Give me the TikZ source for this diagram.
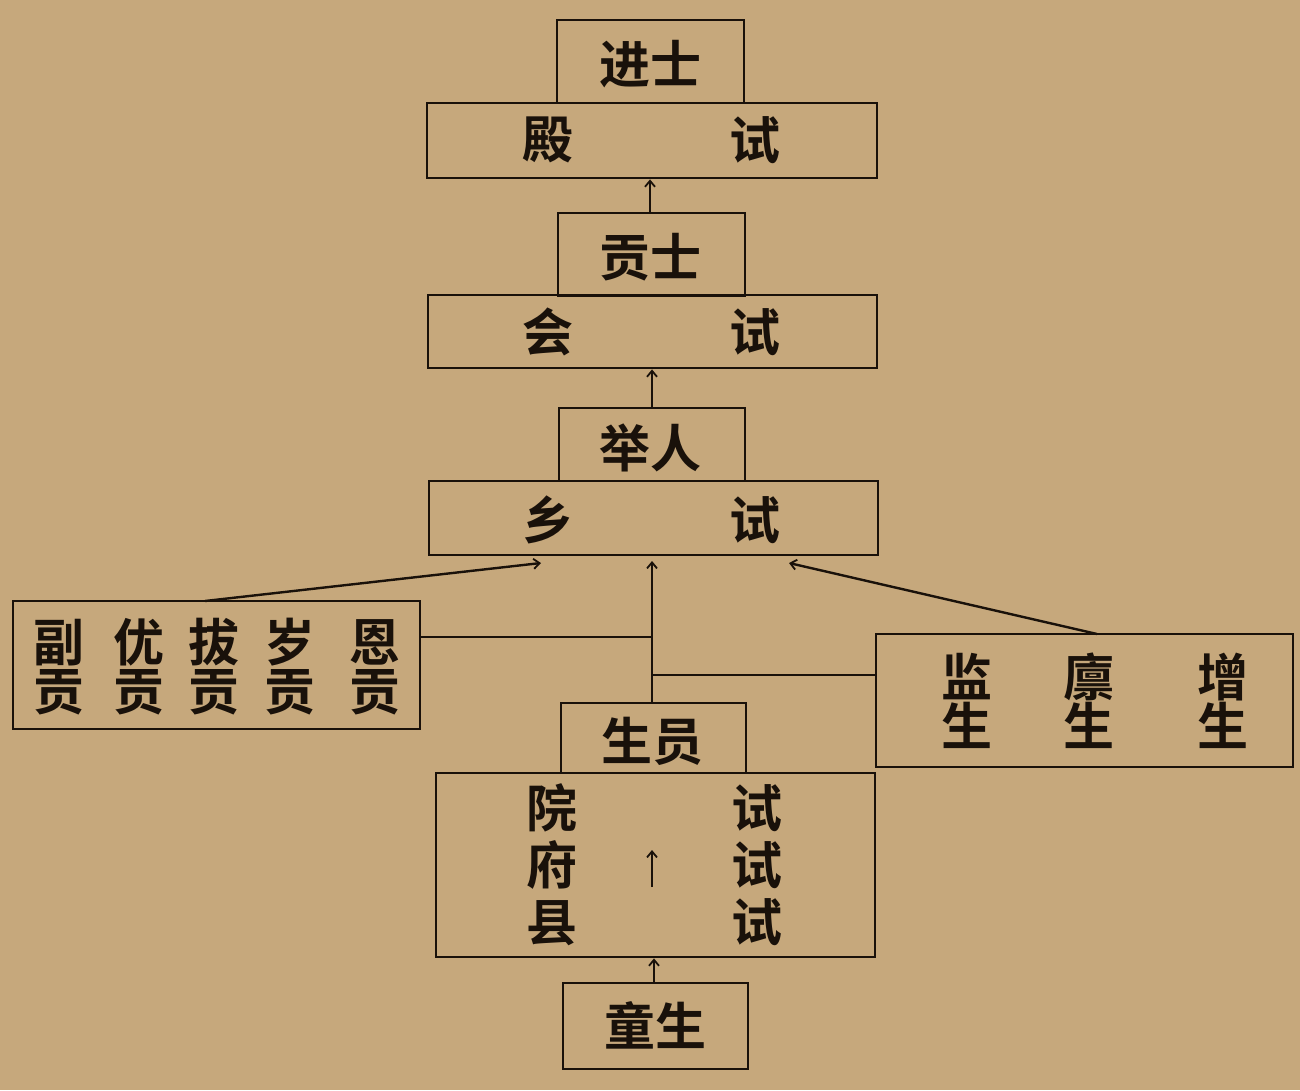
\documentclass[tikz,border=0pt]{standalone}
\usepackage{fontspec}
\setmainfont{Noto Sans CJK SC}[BoldFont={Noto Sans CJK SC Bold}]
\usetikzlibrary{arrows.meta}
\definecolor{bg}{RGB}{198,168,124}
\definecolor{ink}{RGB}{25,17,10}
\tikzset{
  box/.style={draw=ink, line width=2.8pt, inner sep=0pt},
  txt/.style={inner sep=0pt, text=ink, font=\fontsize{51}{49}\selectfont\bfseries, align=center},
  tall/.style={font=\fontsize{51}{57}\selectfont\bfseries},
  conn/.style={draw=ink, line width=2.6pt},
  arr/.style={draw=ink, line width=2.4pt, -{Straight Barb[length=6pt,width=10pt,line width=1.8pt]}},
}
\begin{document}
\begin{tikzpicture}[x=1pt,y=-1pt]
\fill[bg] (0,0) rectangle (1300,1090);
\useasboundingbox (0,0) rectangle (1300,1090);

% boxes
\node[box, minimum width=187pt, minimum height=83pt] (jinshi) at (650.5,61.5) {};
\node[box, minimum width=450pt, minimum height=75pt] (dianshi) at (652,140.5) {};
\node[box, minimum width=187pt, minimum height=83pt] (gongshi) at (651.5,254.5) {};
\node[box, minimum width=449pt, minimum height=73pt] (huishi) at (652.5,331.5) {};
\node[box, minimum width=186pt, minimum height=73pt] (juren) at (652,444.5) {};
\node[box, minimum width=449pt, minimum height=74pt] (xiangshi) at (653.5,518) {};
\node[box, minimum width=407pt, minimum height=128pt] (gong) at (216.5,665) {};
\node[box, minimum width=417pt, minimum height=133pt] (jiansheng) at (1084.5,700.5) {};
\node[box, minimum width=185pt, minimum height=70pt] (shengyuan) at (653.5,738) {};
\node[box, minimum width=439pt, minimum height=184pt] (yuanshi) at (655.5,865) {};
\node[box, minimum width=185pt, minimum height=86pt] (tongsheng) at (655.5,1026) {};

% texts
\node[txt] (t-jinshi) at (650,64) {进士};
\node[txt] (t-dian) at (548,140) {殿};
\node[txt] (t-dianshi) at (755,140) {试};
\node[txt] (t-gongshi) at (650,257) {贡士};
\node[txt] (t-hui) at (548,332) {会};
\node[txt] (t-huishi) at (755,332) {试};
\node[txt] (t-juren) at (650,448) {举人};
\node[txt] (t-xiang) at (548,520) {乡};
\node[txt] (t-xiangshi) at (755,520) {试};

\node[txt] (t-fu) at (59,667) {副\\贡};
\node[txt] (t-you) at (139,667) {优\\贡};
\node[txt] (t-ba) at (214,667) {拔\\贡};
\node[txt] (t-sui) at (290,667) {岁\\贡};
\node[txt] (t-en) at (375,667) {恩\\贡};

\node[txt] (t-jian) at (967,701) {监\\生};
\node[txt] (t-lin) at (1089,701) {廪\\生};
\node[txt] (t-zeng) at (1223,701) {增\\生};

\node[txt] (t-shengyuan) at (652,741) {生员};
\node[txt, tall] (t-yuan) at (552,865) {院\\府\\县};
\node[txt, tall] (t-shi3) at (757,865) {试\\试\\试};
\node[txt] (t-tongsheng) at (655,1025) {童生};

% inner arrow in yuanshi box
\coordinate (ia1) at (652,887);
\coordinate (ia2) at (652,850);
\draw[arr] (ia1) -- (ia2);

% vertical arrows
\draw[arr] (gongshi.north -| 650,0) -- (dianshi.south -| 650,0);
\draw[arr] (juren.north -| 652,0) -- (huishi.south -| 652,0);
\draw[arr] (tongsheng.north -| 654,0) -- (yuanshi.south -| 654,0);
\coordinate (sytop) at (shengyuan.north -| 652,0);
\coordinate (xsbot) at (652,561);
\draw[arr] (sytop) -- (xsbot);

% horizontal connectors
\coordinate (jl) at (652,637);
\coordinate (jr) at (652,675);
\draw[conn] (gong.east |- jl) -- (jl);
\draw[conn] (jr) -- (jiansheng.west |- jr);

% diagonals
\coordinate (dl) at (205,601);
\coordinate (dlend) at (541,563);
\coordinate (dr) at (1097,634);
\coordinate (drend) at (789,563);
\draw[arr] (dl) -- (dlend);
\draw[arr] (dr) -- (drend);
\end{tikzpicture}
\end{document}
